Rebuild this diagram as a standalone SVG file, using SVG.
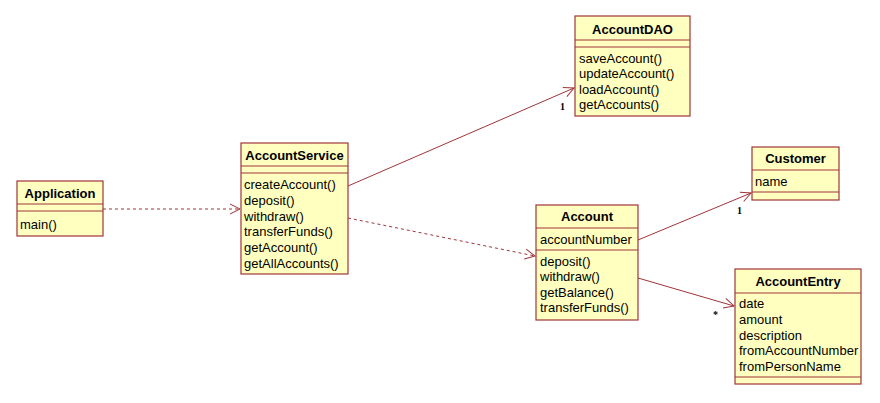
<svg xmlns="http://www.w3.org/2000/svg" width="880" height="403" viewBox="0 0 880 403">
<style>
.box{fill:#ffffc0;stroke:#a0343a;stroke-width:1.2}
.sep{stroke:#a0343a;stroke-width:1.2}
.t{font-family:"Liberation Sans",Arial,sans-serif;font-size:13px;fill:#000}
.h{font-weight:bold;text-anchor:middle}
.c{fill:none;stroke:#a0343a;stroke-width:1}
.d{stroke-dasharray:3,3}
.m{font-family:"Liberation Serif",serif;font-weight:bold;font-size:10px;fill:#000}
</style>
<defs>
<marker id="a" markerWidth="12" markerHeight="12" refX="11" refY="6" orient="auto" markerUnits="userSpaceOnUse">
<path d="M1,1 L11,6 L1,11" fill="none" stroke="#a0343a" stroke-width="1"/>
</marker>
</defs>
<g id="connectors">
<line class="c d" x1="103" y1="209" x2="240" y2="209" marker-end="url(#a)"/>
<line class="c" x1="348" y1="186" x2="574" y2="88" marker-end="url(#a)"/>
<text class="m" x="560" y="110">1</text>
<line class="c d" x1="348" y1="218" x2="535" y2="256" marker-end="url(#a)"/>
<line class="c" x1="638" y1="240" x2="751" y2="193" marker-end="url(#a)"/>
<text class="m" x="737" y="214">1</text>
<line class="c" x1="638" y1="278" x2="734" y2="306" marker-end="url(#a)"/>
<text class="m" x="713" y="318">*</text>
</g>
<g id="Application">
<rect class="box" x="17" y="181" width="86" height="55"/>
<line class="sep" x1="17" y1="204" x2="103" y2="204"/>
<line class="sep" x1="17" y1="211" x2="103" y2="211"/>
<text class="t h" x="60" y="198">Application</text>
<text class="t" x="20" y="229">main()</text>
</g>
<g id="AccountService">
<rect class="box" x="241" y="143" width="107" height="131"/>
<line class="sep" x1="241" y1="166" x2="348" y2="166"/>
<line class="sep" x1="241" y1="173" x2="348" y2="173"/>
<text class="t h" x="294.5" y="160">AccountService</text>
<text class="t" x="244" y="189">createAccount()</text>
<text class="t" x="244" y="205">deposit()</text>
<text class="t" x="244" y="221">withdraw()</text>
<text class="t" x="244" y="236">transferFunds()</text>
<text class="t" x="244" y="252">getAccount()</text>
<text class="t" x="244" y="268">getAllAccounts()</text>
</g>
<g id="AccountDAO">
<rect class="box" x="575" y="16" width="115" height="100"/>
<line class="sep" x1="575" y1="40" x2="690" y2="40"/>
<line class="sep" x1="575" y1="47" x2="690" y2="47"/>
<text class="t h" x="632.5" y="34">AccountDAO</text>
<text class="t" x="579" y="63">saveAccount()</text>
<text class="t" x="579" y="78">updateAccount()</text>
<text class="t" x="579" y="94">loadAccount()</text>
<text class="t" x="579" y="109">getAccounts()</text>
</g>
<g id="Account">
<rect class="box" x="536" y="205" width="102" height="115"/>
<line class="sep" x1="536" y1="228" x2="638" y2="228"/>
<line class="sep" x1="536" y1="250" x2="638" y2="250"/>
<text class="t h" x="587" y="221">Account</text>
<text class="t" x="540" y="244">accountNumber</text>
<text class="t" x="540" y="266">deposit()</text>
<text class="t" x="540" y="281">withdraw()</text>
<text class="t" x="540" y="297">getBalance()</text>
<text class="t" x="540" y="312">transferFunds()</text>
</g>
<g id="Customer">
<rect class="box" x="752" y="147" width="87" height="53"/>
<line class="sep" x1="752" y1="170" x2="839" y2="170"/>
<line class="sep" x1="752" y1="192" x2="839" y2="192"/>
<text class="t h" x="795.5" y="163">Customer</text>
<text class="t" x="755" y="186">name</text>
</g>
<g id="AccountEntry">
<rect class="box" x="735" y="269" width="126" height="115"/>
<line class="sep" x1="735" y1="293" x2="861" y2="293"/>
<line class="sep" x1="735" y1="377" x2="861" y2="377"/>
<text class="t h" x="798" y="286">AccountEntry</text>
<text class="t" x="739" y="308">date</text>
<text class="t" x="739" y="324">amount</text>
<text class="t" x="739" y="340">description</text>
<text class="t" x="739" y="355">fromAccountNumber</text>
<text class="t" x="739" y="371">fromPersonName</text>
</g>
</svg>
